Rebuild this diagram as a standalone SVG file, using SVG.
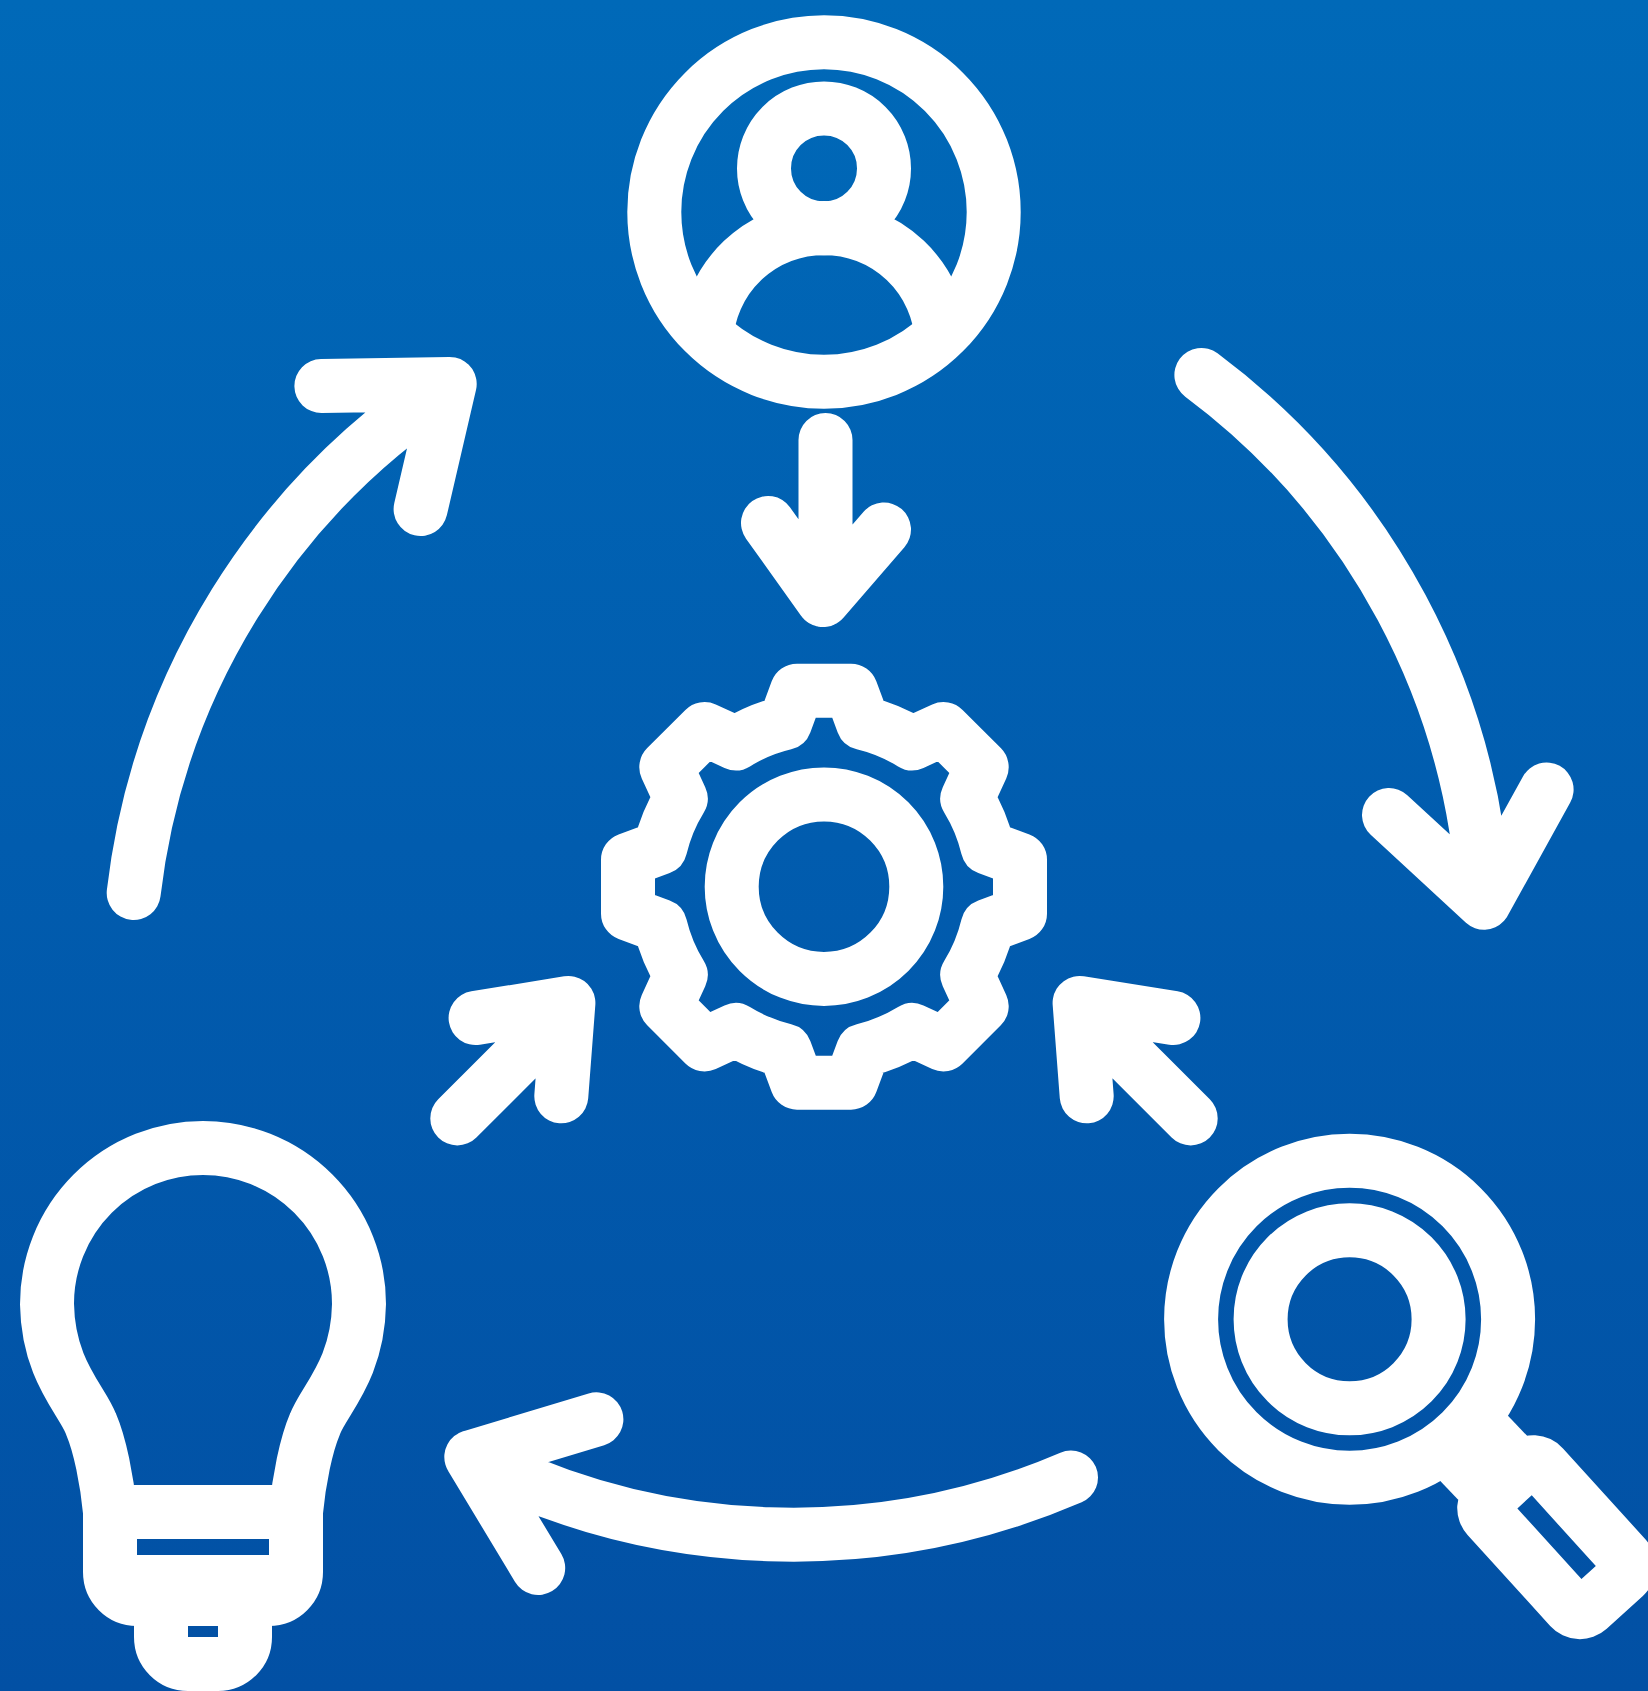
<svg xmlns="http://www.w3.org/2000/svg" width="1648" height="1691" viewBox="0 0 1648 1691">
<style>
.s{fill:none;stroke:#fff;stroke-width:54;stroke-linecap:round;stroke-linejoin:round}
.b{fill:none;stroke:#fff;stroke-width:54;stroke-linecap:butt;stroke-linejoin:round}
.f{fill:#fff}
</style>
<defs><linearGradient id="bg" x1="0" y1="0" x2="0" y2="1"><stop offset="0" stop-color="#0069B8"/><stop offset="0.5" stop-color="#015CAE"/><stop offset="1" stop-color="#0250A4"/></linearGradient></defs>
<rect width="1648" height="1691" fill="url(#bg)"/>
<g id="user">
<circle class="s" cx="824" cy="212" r="169.7"/>
<circle class="s" cx="824" cy="168.4" r="60"/>
<path class="b" d="M706.15 340A118 118 0 0 1 941.85 340"/>
</g>
<g id="gear" transform="translate(824 886.7)">
<circle class="s" r="92.3"/>
<path class="s" d="M-39 -163.7L-27 -196H27L39 -163.7A168 168 0 0 1 88.2 -143.3L119.5 -157.7L157.7 -119.5L143.3 -88.2A168 168 0 0 1 163.7 -39L196 -27V27L163.7 39A168 168 0 0 1 143.3 88.2L157.7 119.5L119.5 157.7L88.2 143.3A168 168 0 0 1 39 163.7L27 196H-27L-39 163.7A168 168 0 0 1 -88.2 143.3L-119.5 157.7L-157.7 119.5L-143.3 88.2A168 168 0 0 1 -163.7 39L-196 27V-27L-163.7 -39A168 168 0 0 1 -143.3 -88.2L-157.7 -119.5L-119.5 -157.7L-88.2 -143.3A168 168 0 0 1 -39 -163.7Z"/>
</g>
<g id="bulb">
<path class="s" d="M110 1512C107 1480 100 1445 91 1424C82 1400 48 1370 47 1304A156 156 0 0 1 359 1304C358 1370 324 1400 315 1424C306 1445 299 1480 296 1512"/>
<path class="s" d="M110 1512V1572A27 27 0 0 0 137 1599H269A27 27 0 0 0 296 1572V1512Z"/>
<path class="b" d="M110 1582H296"/>
<path class="b" d="M161 1599V1637A27 27 0 0 0 188 1664H218A27 27 0 0 0 245 1637V1599"/>
</g>
<g id="magnifier">
<circle class="s" cx="1349.6" cy="1319.3" r="158.5"/>
<circle class="s" cx="1349.6" cy="1319.3" r="89"/>
<polygon class="f" points="1493,1400 1426,1466 1457.7,1499.3 1480,1510 1540,1450 1527.3,1436"/>
<path class="f" fill-rule="evenodd" transform="translate(1556.6 1537.2) rotate(47.8)" d="M-61.5 -64.4H61.5A40 40 0 0 1 101.5 -24.4V24.4A40 40 0 0 1 61.5 64.4H-61.5A40 40 0 0 1 -101.5 24.4V-24.4A40 40 0 0 1 -61.5 -64.4ZM-47.7 -9.7V9.7H47.7V-9.7Z"/>
</g>
<g id="connectors">
<path class="s" d="M825.5 440V590L823 600M768 523L823 600L884 529.5"/>
<path class="s" d="M133.7 893A705 705 0 0 1 449.7 384M321.4 386L449.7 384L420.6 509"/>
<path class="s" d="M1201.4 375A705 705 0 0 1 1484 902.7M1389 815L1484 902.7L1546.6 789.5"/>
<path class="s" d="M1071 1477.5A705 705 0 0 1 471.3 1457M596.4 1419.3L471.3 1457L538.2 1568"/>
<path class="s" d="M457.3 1118.4L568 1007.7M475.6 1018L568.4 1003L561.3 1096.3"/>
<path class="s" d="M1190.7 1118.4L1080 1007.7M1173.4 1018L1079.6 1003L1086.7 1096.3"/>
</g>
</svg>
